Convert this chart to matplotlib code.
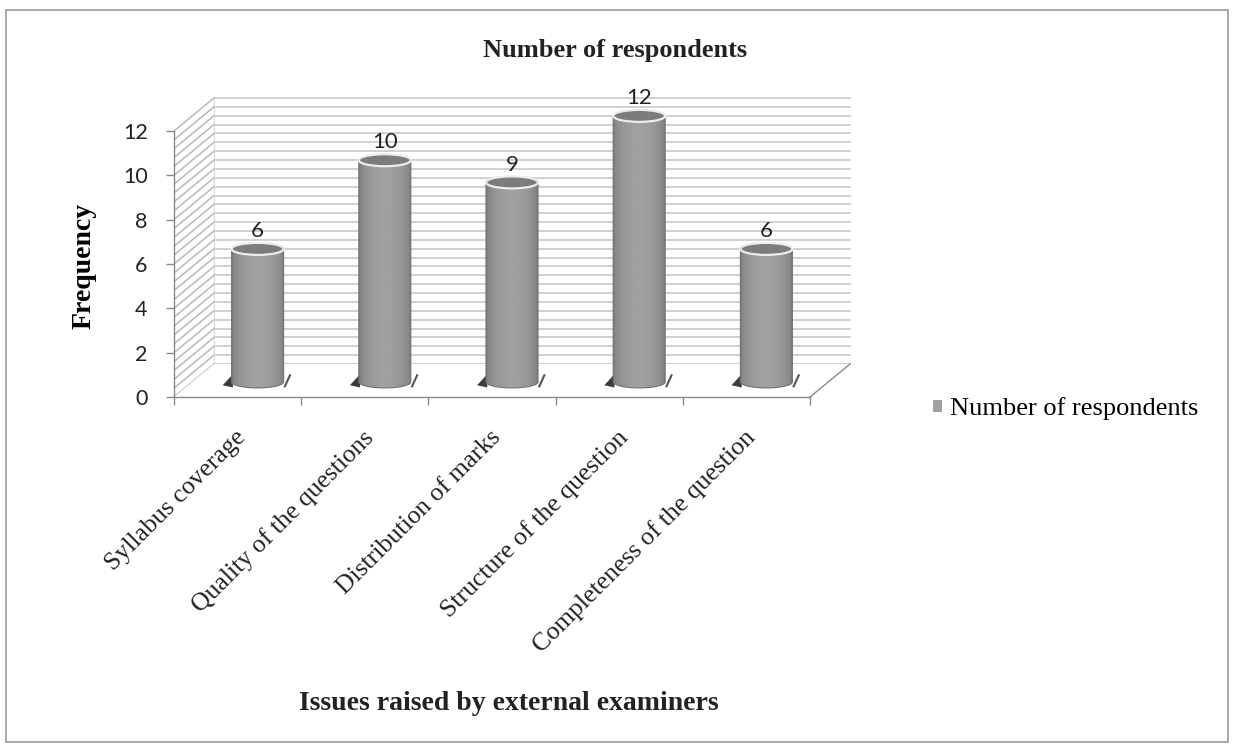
import numpy as np
import matplotlib.pyplot as plt
from matplotlib.patches import Rectangle, Ellipse, Polygon, Patch

categories = ["Syllabus coverage", "Quality of the questions", "Distribution of marks",
              "Structure of the question", "Completeness of the question"]
respondents = [6, 10, 9, 12, 6]
y_ticks = [0, 2, 4, 6, 8, 10, 12]
series_name = "Number of respondents"

W, H = 1235, 751
fig = plt.figure(figsize=(W / 100, H / 100), dpi=100)
fig.patch.set_facecolor("white")

# plot box in pixels, origin of the front axis at (174, 397)
px_x = 127.2   # pixels per category
px_y = 22.17   # pixels per unit of frequency
left_px, right_px, top_px, base_px = 174, 862, 92, 397
ax = fig.add_axes([left_px / W, 1 - base_px / H,
                   (right_px - left_px) / W, (base_px - top_px) / H])
xlim = (-0.5, -0.5 + (right_px - left_px) / px_x)
ylim = (0, (base_px - top_px) / px_y)

# depth of the 3d box (oblique projection)
dx = 40 / px_x
dy = 33 / px_y
ymax = y_ticks[-1]
n = len(categories)
x0, x1 = -0.5, n - 0.5

grid_col = "#c4c4c4"
grid_lvls = np.arange(0, ymax + 0.01, 0.4)

# back wall
ax.add_patch(Polygon([(x0 + dx, dy), (x1 + dx, dy), (x1 + dx, ymax + dy), (x0 + dx, ymax + dy)],
                     closed=True, facecolor="white", edgecolor="none", zorder=0))
for lv in grid_lvls:
    ax.plot([x0 + dx, x1 + dx], [lv + dy, lv + dy], color=grid_col, lw=1.1, zorder=1)
    # side wall hatching
    ax.plot([x0, x0 + dx], [lv, lv + dy], color="#b8b8b8", lw=1.1, zorder=1)
ax.plot([x0 + dx, x0 + dx], [dy, ymax + dy], color="#d8d8d8", lw=0.8, zorder=1)

# floor
ax.add_patch(Polygon([(x0, 0), (x1, 0), (x1 + dx, dy), (x0 + dx, dy)],
                     closed=True, facecolor="white", edgecolor="none", zorder=2))
ax.plot([x1, x1 + dx], [0, dy], color="#8a8a8a", lw=1.0, zorder=3)

# cylinders
bw = 52 / px_x
eh = 12 / px_y
y0 = 0.68
t = np.linspace(0, 1, 120)
shade = 0.47 + 0.16 * np.sin(np.pi * t) ** 0.5
grad = np.tile(shade, (2, 1))
for i, v in enumerate(respondents):
    xc = i + dx / 2
    th = np.linspace(np.pi, 2 * np.pi, 40)
    arc = np.column_stack([xc + bw / 2 * np.cos(th), y0 + eh / 2 * np.sin(th)])
    body = np.vstack([[xc - bw / 2, y0 + v], arc, [xc + bw / 2, y0 + v]])
    outline = Polygon(body, closed=True, facecolor="none", edgecolor="#707070", lw=0.8, zorder=5)
    ax.add_patch(outline)
    im = ax.imshow(grad, extent=[xc - bw / 2, xc + bw / 2, y0 - eh / 2, y0 + v],
                   cmap="gray", vmin=0, vmax=1, aspect="auto", zorder=4,
                   interpolation="bilinear")
    im.set_clip_path(outline)
    ax.add_patch(Ellipse((xc, y0 + v), bw, eh, facecolor="#7c7c7c",
                         edgecolor="#ececec", lw=1.6, zorder=6))
    # small shadows at the base
    ax.add_patch(Polygon([(xc - bw / 2 - 0.07, y0 - 0.15), (xc - bw / 2 + 0.01, y0 + 0.35),
                          (xc - bw / 2 + 0.01, y0 - 0.25)], closed=True,
                         facecolor="#3c3c3c", edgecolor="none", zorder=3))
    ax.plot([xc + bw / 2 + 0.01, xc + bw / 2 + 0.05], [y0 - 0.2, y0 + 0.3],
            color="#555555", lw=1.5, zorder=3)
    ax.text(xc, y0 + v + eh / 2 + 0.08, str(v), ha="center", va="bottom",
            fontsize=16, family="Lato", color="#222222", zorder=7)

# axes
for side in ["top", "right"]:
    ax.spines[side].set_visible(False)
ax.spines["left"].set_bounds(0, ymax)
ax.spines["bottom"].set_bounds(x0, x1)
for side in ["left", "bottom"]:
    ax.spines[side].set_color("#8a8a8a")
    ax.spines[side].set_linewidth(1.0)
    ax.spines[side].set_zorder(8)

ax.set_yticks(y_ticks)
ax.set_yticklabels([str(v) for v in y_ticks], family="Lato", fontsize=15.5, color="#222222")
ax.tick_params(axis="y", direction="out", length=6, width=1, color="#8a8a8a", pad=13)

ax.set_xticks(np.arange(x0, x1 + 0.01, 1.0))
ax.set_xticklabels([])
ax.tick_params(axis="x", which="major", direction="out", length=6, width=1, color="#8a8a8a")
ax.set_xticks(np.arange(n) + 0.04, minor=True)
ax.set_xticklabels(categories, minor=True, rotation=45, ha="right", va="center",
                   rotation_mode="anchor", family="Liberation Serif", fontsize=18.5,
                   color="#222222")
ax.tick_params(axis="x", which="minor", length=0, pad=27)

ax.set_ylabel("Frequency", family="Liberation Serif", fontweight="bold", fontsize=20)
ax.yaxis.set_label_coords(-0.113, 0.43)

ax.set_xlim(*xlim)
ax.set_ylim(*ylim)

fig.text(615 / W, 1 - 50 / H, "Number of respondents", ha="center", va="center",
         family="Liberation Serif", fontweight="bold", fontsize=19, color="#222222")
fig.text(509 / W, 1 - 703 / H, "Issues raised by external examiners", ha="center", va="center",
         family="Liberation Serif", fontweight="bold", fontsize=20, color="#222222")

fig.legend(handles=[Patch(facecolor="#a0a0a0", edgecolor="none")], labels=[series_name],
           loc="center left", bbox_to_anchor=(909 / W, 1 - 409 / H), frameon=False,
           handlelength=0.35, handleheight=0.35, handletextpad=0.3,
           prop={"family": "Liberation Serif", "size": 19})

# outer chart border
fig.add_artist(Rectangle((6 / W, 9 / H), (1228 - 6) / W, (741 - 9) / H,
                         transform=fig.transFigure, fill=False, edgecolor="#9a9a9a", lw=1.2))

fig.savefig("out.png", dpi=100)
